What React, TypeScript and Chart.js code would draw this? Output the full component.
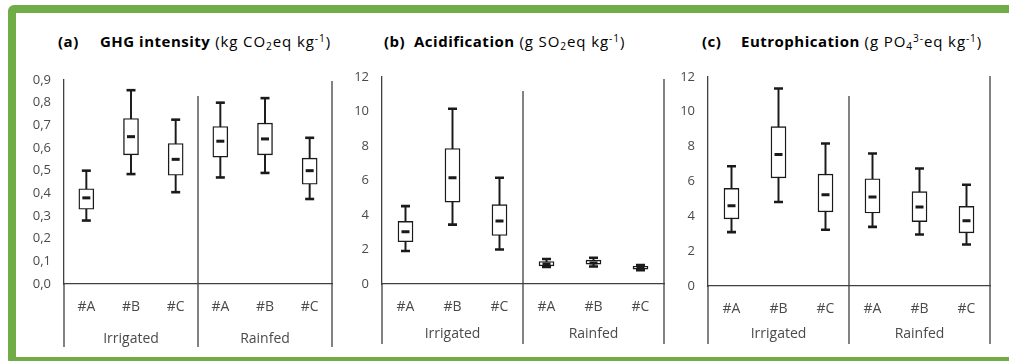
import React, { useEffect, useRef } from 'react';
import { Chart, registerables } from 'chart.js';

Chart.register(...registerables);

// Shared categories
const categories = ['#A', '#B', '#C', '#A', '#B', '#C'];
const groups = ['Irrigated', 'Rainfed'];

// (a) GHG intensity (kg CO2eq kg-1)
const ghgMin = [0.28, 0.485, 0.405, 0.47, 0.49, 0.375];
const ghgQ1 = [0.33, 0.57, 0.48, 0.56, 0.57, 0.44];
const ghgMedian = [0.38, 0.65, 0.55, 0.63, 0.64, 0.5];
const ghgQ3 = [0.42, 0.73, 0.62, 0.695, 0.71, 0.555];
const ghgMax = [0.5, 0.855, 0.725, 0.8, 0.82, 0.645];
const ghgTicks = ['0,0', '0,1', '0,2', '0,3', '0,4', '0,5', '0,6', '0,7', '0,8', '0,9'];

// (b) Acidification (g SO2eq kg-1)
const acidMin = [1.91, 3.44, 2.0, 0.99, 1.01, 0.8];
const acidQ1 = [2.45, 4.74, 2.81, 1.05, 1.15, 0.86];
const acidMedian = [3.02, 6.15, 3.65, 1.16, 1.22, 0.95];
const acidQ3 = [3.63, 7.85, 4.6, 1.3, 1.38, 1.03];
const acidMax = [4.51, 10.15, 6.15, 1.45, 1.52, 1.1];
const acidTicks = ['0', '2', '4', '6', '8', '10', '12'];

// (c) Eutrophication (g PO4 3- eq kg-1)
const eutMin = [3.09, 4.82, 3.23, 3.39, 2.95, 2.38];
const eutQ1 = [3.85, 6.2, 4.25, 4.19, 3.69, 3.05];
const eutMedian = [4.6, 7.54, 5.23, 5.1, 4.53, 3.75];
const eutQ3 = [5.6, 9.14, 6.42, 6.15, 5.41, 4.57];
const eutMax = [6.87, 11.33, 8.17, 7.6, 6.74, 5.81];
const eutTicks = ['0', '2', '4', '6', '8', '10', '12'];

const FONT = "'Open Sans', 'Liberation Sans', sans-serif";
const TEXT = '#4a4a4a';
const AXIS = '#404040';
const BOX = '#1a1a1a';

// Separators between the two groups, the right frame line and group captions
const groupLines = {
  id: 'groupLines',
  afterDraw(chart: any, _args: any, opts: any) {
    const { ctx, chartArea } = chart;
    const x = chart.scales.x;
    const p = (i: number) => x.getPixelForValue(i);
    const step = p(1) - p(0);
    const mid = (p(2) + p(3)) / 2;
    const right = p(5) + step / 2;
    ctx.save();
    ctx.strokeStyle = AXIS;
    ctx.lineWidth = 1.3;
    const seg = (x0: number, y0: number, x1: number, y1: number) => {
      ctx.beginPath();
      ctx.moveTo(x0, y0);
      ctx.lineTo(x1, y1);
      ctx.stroke();
    };
    seg(chartArea.left, chartArea.bottom, chartArea.left, opts.bottom);
    seg(mid, opts.sepTop, mid, opts.bottom);
    seg(right, opts.rightTop, right, opts.bottom);
    ctx.fillStyle = TEXT;
    ctx.font = `14px ${FONT}`;
    ctx.textAlign = 'center';
    ctx.textBaseline = 'middle';
    ctx.fillText(groups[0], (p(0) + p(2)) / 2, opts.labelY);
    ctx.fillText(groups[1], (p(3) + p(5)) / 2, opts.labelY);
    ctx.restore();
  },
};

type PanelProps = {
  min: number[];
  q1: number[];
  median: number[];
  q3: number[];
  max: number[];
  ticks: string[];
  yMax: number;
  step: number;
  left: number;
  width: number;
  padTop: number;
  padRight: number;
  xHeight: number;
  sepTop: number;
  rightTop: number;
  bottom: number;
  labelY: number;
};

const TOP = 56;
const HEIGHT = 300;

function Panel(props: PanelProps) {
  const ref = useRef<HTMLCanvasElement | null>(null);
  useEffect(() => {
    if (!ref.current) return;
    const { min, q1, median, q3, max, ticks } = props;
    const chart = new Chart(ref.current, {
      type: 'bar',
      data: {
        labels: categories,
        datasets: [
          {
            type: 'bar',
            data: categories.map((_, i) => [min[i], max[i]]),
            backgroundColor: BOX,
            borderWidth: 0,
            barThickness: 1.3,
            grouped: false,
            order: 3,
          } as any,
          {
            type: 'bar',
            data: categories.map((_, i) => [q1[i], q3[i]]),
            backgroundColor: '#ffffff',
            borderColor: BOX,
            borderWidth: 1.4,
            borderSkipped: false,
            barThickness: 15,
            grouped: false,
            order: 2,
          } as any,
          {
            type: 'line',
            data: min,
            showLine: false,
            pointStyle: 'line',
            pointRadius: 4.5,
            pointBorderWidth: 2.6,
            borderColor: BOX,
            order: 1,
          } as any,
          {
            type: 'line',
            data: max,
            showLine: false,
            pointStyle: 'line',
            pointRadius: 4.5,
            pointBorderWidth: 2.6,
            borderColor: BOX,
            order: 1,
          } as any,
          {
            type: 'line',
            data: median,
            showLine: false,
            pointStyle: 'line',
            pointRadius: 4,
            pointBorderWidth: 3,
            borderColor: BOX,
            order: 0,
          } as any,
        ],
      },
      options: {
        animation: false,
        responsive: false,
        devicePixelRatio: 1,
        events: [],
        layout: { padding: { top: props.padTop, right: props.padRight, left: 0, bottom: 0 } },
        plugins: {
          legend: { display: false },
          tooltip: { enabled: false },
          groupLines: {
            sepTop: props.sepTop,
            rightTop: props.rightTop,
            bottom: props.bottom,
            labelY: props.labelY,
          },
        } as any,
        scales: {
          x: {
            type: 'category',
            offset: true,
            grid: { display: false, drawTicks: false },
            border: { display: true, color: AXIS, width: 1.3 },
            ticks: {
              color: TEXT,
              font: { family: FONT, size: 14 },
              padding: 15,
              maxRotation: 0,
              autoSkip: false,
            },
            afterFit: (s: any) => {
              s.height = props.xHeight;
            },
          },
          y: {
            min: 0,
            max: props.yMax,
            grid: { display: false, drawTicks: false },
            border: { display: true, color: AXIS, width: 1.3 },
            ticks: {
              stepSize: props.step,
              color: TEXT,
              font: { family: FONT, size: 13 },
              padding: 13,
              callback: (_v: any, i: number) => ticks[i],
            },
            afterFit: (s: any) => {
              s.width = 50;
            },
          },
        } as any,
      },
      plugins: [groupLines],
    });
    return () => chart.destroy();
  }, []);
  return (
    <canvas
      ref={ref}
      width={props.width}
      height={HEIGHT}
      style={{ position: 'absolute', left: props.left, top: TOP, width: props.width, height: HEIGHT }}
    />
  );
}

const titleBase: React.CSSProperties = {
  position: 'absolute',
  top: 31,
  fontFamily: FONT,
  fontSize: 15,
  lineHeight: '20px',
  color: '#000',
  whiteSpace: 'nowrap',
  letterSpacing: 0.9,
};
const boldStyle: React.CSSProperties = { letterSpacing: 0.5 };
const subStyle: React.CSSProperties = { fontSize: '0.68em', verticalAlign: '-0.3em', lineHeight: 0 };
const supStyle: React.CSSProperties = { fontSize: '0.68em', verticalAlign: '0.45em', lineHeight: 0 };

export default function App() {
  return (
    <div
      style={{
        position: 'absolute',
        left: 0,
        top: 0,
        width: 1009,
        height: 361,
        overflow: 'hidden',
        background: '#ffffff',
      }}
    >
      <div
        style={{
          position: 'absolute',
          left: 8,
          top: 5,
          width: 1040,
          height: 360,
          boxSizing: 'border-box',
          border: '8px solid #70ad47',
          borderRadius: 6,
        }}
      />

      <span style={{ ...titleBase, left: 58, fontWeight: 700, letterSpacing: 0.5 }}>(a)</span>
      <span style={{ ...titleBase, left: 100 }}>
        <b style={boldStyle}>GHG intensity</b> (kg CO<sub style={subStyle}>2</sub>eq kg
        <sup style={supStyle}>-1</sup>)
      </span>

      <span style={{ ...titleBase, left: 384, fontWeight: 700, letterSpacing: 0.5 }}>(b)</span>
      <span style={{ ...titleBase, left: 414 }}>
        <b style={boldStyle}>Acidification</b> (g SO<sub style={subStyle}>2</sub>eq kg
        <sup style={supStyle}>-1</sup>)
      </span>

      <span style={{ ...titleBase, left: 702, fontWeight: 700, letterSpacing: 0.5 }}>(c)</span>
      <span style={{ ...titleBase, left: 741 }}>
        <b style={boldStyle}>Eutrophication</b> (g PO<sub style={subStyle}>4</sub>
        <sup style={supStyle}>3-</sup>eq kg<sup style={supStyle}>-1</sup>)
      </span>

      <Panel
        min={ghgMin}
        q1={ghgQ1}
        median={ghgMedian}
        q3={ghgQ3}
        max={ghgMax}
        ticks={ghgTicks}
        yMax={0.9}
        step={0.1}
        left={14}
        width={328}
        padTop={24}
        padRight={10}
        xHeight={72}
        sepTop={40}
        rightTop={25}
        bottom={291}
        labelY={283}
      />
      <Panel
        min={acidMin}
        q1={acidQ1}
        median={acidMedian}
        q3={acidQ3}
        max={acidMax}
        ticks={acidTicks}
        yMax={12}
        step={2}
        left={332}
        width={342}
        padTop={19}
        padRight={10}
        xHeight={72}
        sepTop={35}
        rightTop={23}
        bottom={288}
        labelY={278}
      />
      <Panel
        min={eutMin}
        q1={eutQ1}
        median={eutMedian}
        q3={eutQ3}
        max={eutMax}
        ticks={eutTicks}
        yMax={12}
        step={2}
        left={658}
        width={344}
        padTop={20}
        padRight={12}
        xHeight={70}
        sepTop={40}
        rightTop={20}
        bottom={288}
        labelY={278}
      />
    </div>
  );
}
